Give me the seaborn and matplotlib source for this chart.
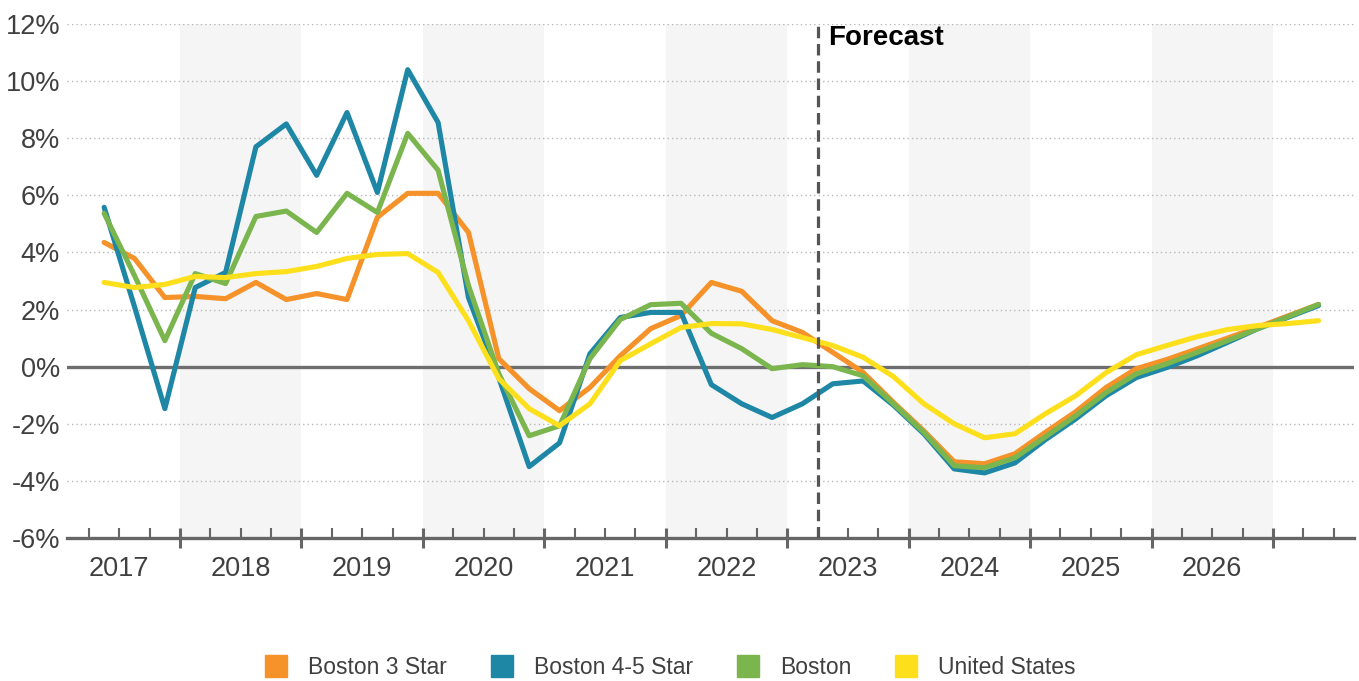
import numpy as np
import pandas as pd
import matplotlib
matplotlib.use("Agg")
import matplotlib.pyplot as plt
import seaborn as sns
from matplotlib.lines import Line2D
from matplotlib.ticker import FixedLocator, FixedFormatter

# ---------------- data ----------------
# quarterly points, 2017 Q2 .. 2027 Q2
quarters = [(y, q) for y in range(2017, 2028) for q in range(1, 5)][1:42]

boston_3_star = [4.35, 3.79, 2.42, 2.46, 2.38, 2.95, 2.35, 2.56, 2.35, 5.23, 6.07,
                 6.07, 4.7, 0.28, -0.77, -1.54, -0.73, 0.38, 1.33, 1.79, 2.95,
                 2.64, 1.61, 1.2, 0.5, -0.2, -1.25, -2.25, -3.33, -3.4, -3.05,
                 -2.3, -1.58, -0.73, -0.07, 0.25, 0.62, 1.0, 1.38, 1.78, 2.18]
boston_45_star = [5.58, 2.1, -1.47, 2.77, 3.3, 7.7, 8.5, 6.7, 8.9, 6.1, 10.4,
                  8.55, 2.42, -0.39, -3.5, -2.67, 0.45, 1.72, 1.9, 1.9, -0.63,
                  -1.3, -1.78, -1.3, -0.6, -0.5, -1.35, -2.35, -3.58, -3.72, -3.37,
                  -2.56, -1.83, -1.02, -0.38, -0.03, 0.38, 0.85, 1.33, 1.73, 2.14]
boston = [5.37, 3.19, 0.91, 3.26, 2.91, 5.26, 5.45, 4.7, 6.07, 5.4, 8.17,
          6.88, 2.84, -0.25, -2.42, -2.07, 0.28, 1.65, 2.17, 2.22, 1.17,
          0.63, -0.07, 0.07, 0.0, -0.32, -1.3, -2.3, -3.47, -3.54, -3.19,
          -2.46, -1.72, -0.91, -0.25, 0.1, 0.5, 0.91, 1.33, 1.75, 2.18]
united_states = [2.95, 2.77, 2.88, 3.16, 3.12, 3.26, 3.33, 3.51, 3.79, 3.93, 3.96,
                 3.3, 1.61, -0.42, -1.47, -2.07, -1.3, 0.21, 0.8, 1.37, 1.51,
                 1.5, 1.3, 1.02, 0.74, 0.33, -0.35, -1.3, -2.0, -2.49, -2.35,
                 -1.65, -1.02, -0.21, 0.42, 0.74, 1.05, 1.3, 1.44, 1.51, 1.61]

series_names = ["Boston 3 Star", "Boston 4-5 Star", "Boston", "United States"]
series_values = [boston_3_star, boston_45_star, boston, united_states]
series_colors = ["#F5922A", "#1F87A6", "#7AB54E", "#FDDF1C"]

year_labels = [str(y) for y in range(2017, 2027)]
shaded_years = [2018, 2020, 2022, 2024, 2026]
forecast_start = 2023.25
y_ticks = [-6, -4, -2, 0, 2, 4, 6, 8, 10, 12]

# --------------- frame ----------------
xpos = [y + (q - 0.5) / 4 for (y, q) in quarters]
df = pd.concat([pd.DataFrame({"x": xpos, "value": v, "series": n})
                for n, v in zip(series_names, series_values)], ignore_index=True)

sns.set_theme(style="white")
plt.rcParams["font.family"] = ["Liberation Sans", "DejaVu Sans"]

W, H = 1359, 681
fig = plt.figure(figsize=(W / 100, H / 100), dpi=100)
ax = fig.add_axes([67 / W, 1 - 538 / H, (1354 - 67) / W, (538 - 24) / H])

for y in shaded_years:
    ax.axvspan(y, y + 1, color="#f5f5f5", lw=0, zorder=0)

for v in y_ticks:
    if v not in (0, -6):
        ax.axhline(v, color="#b8b8b8", lw=1.0, ls=(0, (1, 2.2)), zorder=1)
ax.axhline(0, color="#6e6e6e", lw=2.4, zorder=2)

sns.lineplot(data=df, x="x", y="value", hue="series", hue_order=series_names,
             palette=dict(zip(series_names, series_colors)), linewidth=3.7,
             estimator=None, sort=False, legend=False, ax=ax)
for ln in ax.get_lines()[-4:]:
    ln.set_zorder(3)
    ln.set_solid_joinstyle("round")
    ln.set_solid_capstyle("round")

ax.axvline(forecast_start, color="#555555", lw=2.3, ls=(0, (3.6, 1.8)), zorder=4)
ax.text(forecast_start + 0.085, 11.5, "Forecast", fontsize=20, fontweight="bold",
        color="black", ha="left", va="center", zorder=5)

x0 = 2017 + (67 - 58.6) / 121.44
x1 = 2017 + (1354 - 58.6) / 121.44
ax.set_xlim(x0, x1)
ax.set_ylim(-6, 12)

for s in ("left", "top", "right"):
    ax.spines[s].set_visible(False)
ax.spines["bottom"].set_color("#666666")
ax.spines["bottom"].set_linewidth(2.4)
ax.set_xlabel("")
ax.set_ylabel("")

ax.set_yticks(y_ticks)
ax.set_yticklabels([f"{v}%" for v in y_ticks])
ax.tick_params(axis="y", length=0, pad=5, labelsize=19.5, labelcolor="#404040")

major = list(range(2018, 2028))
ax.xaxis.set_major_locator(FixedLocator(major))
ax.xaxis.set_major_formatter(FixedFormatter([""] * len(major)))
minor, minor_lab = [], []
for y in range(2017, 2028):
    for f in (0.25, 0.5, 0.75):
        if x0 < y + f < x1:
            minor.append(y + f)
            minor_lab.append(str(y) if (f == 0.5 and str(y) in year_labels) else "")
ax.xaxis.set_minor_locator(FixedLocator(minor))
ax.xaxis.set_minor_formatter(FixedFormatter(minor_lab))
ax.tick_params(axis="x", which="major", direction="inout", length=15, width=2.2,
               color="#666666", bottom=True)
ax.tick_params(axis="x", which="minor", direction="in", length=7.5, width=1.5,
               color="#666666", bottom=True, pad=13, labelsize=19.5, labelcolor="#404040")

handles = [Line2D([], [], marker="s", ls="none", color=c, markersize=15.5) for c in series_colors]
fig.legend(handles, series_names, loc="center", bbox_to_anchor=(670 / W, 1 - 668 / H),
           ncol=4, frameon=False, fontsize=16.5, handletextpad=0.9, columnspacing=1.9,
           labelcolor="#404040", handlelength=1.0)

fig.savefig("out.png", dpi=100)
